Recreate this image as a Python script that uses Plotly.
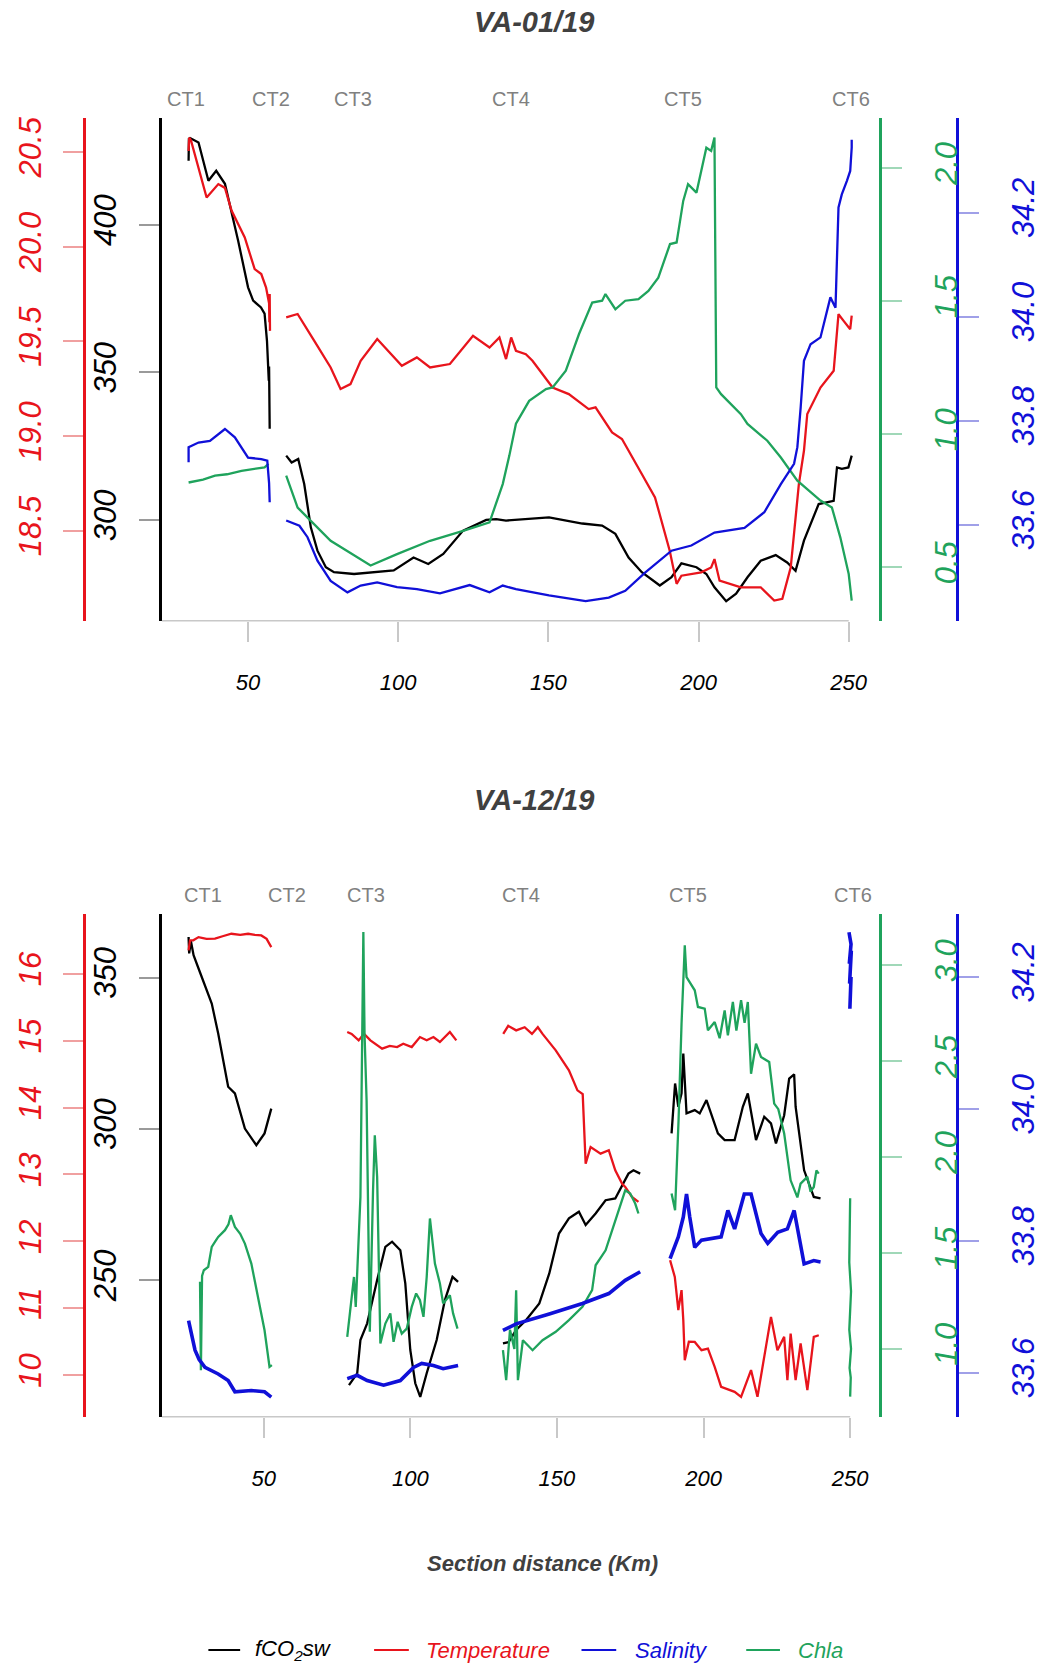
import plotly.graph_objects as go

# ---------------- DATA ----------------
CT_LABELS = ["CT1", "CT2", "CT3", "CT4", "CT5", "CT6"]
CT_KM = [29.2, 57.8, 84.8, 137.7, 194.7, 250.9]
TITLES = ["VA-01/19", "VA-12/19"]
X_TICKS = [50, 100, 150, 200, 250]

# ---- VA-01/19 ----
fco2_1_km = [30.2, 30.3, 30.7, 33.5, 36.8, 39.4, 42.3, 46.7, 50.0, 51.7, 54.3, 55.5, 56.3, 56.9, 57.0, 57.1, 57.2,
             None,
             62.7, 64.5, 66.7, 68.7, 70.9, 73.1, 75.9, 78.6, 85.3, 91.9, 98.5, 105.1, 110.0, 115.0, 121.6, 129.3,
             132.6, 135.9, 139.2, 150.2, 161.3, 167.9, 172.3, 176.7, 181.1, 187.1, 191.0, 194.3, 199.3, 202.6,
             205.3, 209.2, 212.5, 216.3, 220.7, 225.7, 229.5, 232.3, 235.1, 240.0, 245.0, 246.1, 247.7, 249.9, 251.0]
fco2_1 = [421.7, 429.1, 429.4, 427.9, 414.9, 418.3, 413.9, 394.6, 378.8, 374.3, 372.0, 369.9, 360.7, 347.2, 352.0, 338.0, 330.9,
          None,
          321.8, 319.5, 320.7, 312.2, 297.5, 289.6, 284.0, 282.3, 281.7, 282.3, 282.9, 287.3, 285.1, 288.5, 296.4, 300.0,
          300.3, 299.8, 300.0, 300.9, 298.8, 298.1, 295.3, 287.3, 282.3, 277.8, 280.6, 285.3, 284.0, 281.7,
          277.2, 272.5, 275.0, 280.6, 286.2, 288.1, 285.6, 282.8, 293.0, 305.4, 306.5, 317.8, 317.3, 317.8, 321.8]

temp_1_km = [30.2, 30.4, 31.0, 33.5, 36.2, 40.1, 42.3, 44.5, 48.9, 52.2, 54.4, 56.0, 57.0, 57.1, 57.2, 57.3,
             None,
             62.7, 66.5, 72.0, 77.5, 80.8, 84.1, 87.5, 93.0, 101.2, 106.2, 110.6, 117.2, 124.9, 130.4, 133.7, 135.9,
             137.6, 139.2, 142.5, 144.7, 151.4, 156.8, 163.4, 165.7, 171.2, 174.5, 181.1, 185.5, 190.4, 192.7,
             194.3, 200.9, 204.2, 205.3, 207.0, 210.8, 214.1, 220.7, 225.2, 227.9, 230.7, 233.4, 235.1, 236.2,
             240.6, 245.0, 245.6, 246.6, 248.3, 250.5, 251.0]
temp_1 = [20.505, 20.575, 20.56, 20.417, 20.259, 20.33, 20.31, 20.19, 20.048, 19.881, 19.855, 19.784, 19.70, 19.60, 19.75, 19.555,
          None,
          19.626, 19.644, 19.503, 19.362, 19.248, 19.274, 19.397, 19.512, 19.371, 19.415, 19.362, 19.380, 19.529, 19.467, 19.520, 19.406,
          19.52, 19.45, 19.432, 19.397, 19.256, 19.221, 19.142, 19.151, 19.019, 18.984, 18.799, 18.676, 18.394, 18.219,
          18.262, 18.28, 18.306, 18.35, 18.236, 18.219, 18.201, 18.201, 18.131, 18.14, 18.306, 18.746, 18.922, 19.116,
          19.256, 19.344, 19.467, 19.643, 19.608, 19.564, 19.635]

sal_1_km = [30.2, 30.2, 33.5, 37.3, 42.3, 45.6, 50.0, 54.4, 56.4, 57.0, 57.2,
            None,
            62.7, 67.1, 69.8, 73.1, 77.5, 83.1, 87.5, 93.0, 99.6, 106.2, 113.9, 123.8, 130.4, 134.8, 139.2, 150.2,
            162.4, 170.1, 175.6, 182.2, 191.0, 197.6, 205.3, 215.3, 221.9, 227.4, 231.8, 232.9, 234.0, 235.1, 237.3,
            240.6, 243.9, 245.6, 246.6, 247.7, 249.4, 250.5, 251.0, 251.0]
sal_1 = [33.720, 33.749, 33.758, 33.761, 33.784, 33.768, 33.729, 33.726, 33.723, 33.68, 33.643,
         None,
         33.608, 33.598, 33.576, 33.531, 33.492, 33.470, 33.483, 33.489, 33.480, 33.476, 33.468, 33.484, 33.470, 33.483, 33.476, 33.464,
         33.453, 33.460, 33.473, 33.508, 33.550, 33.560, 33.585, 33.594, 33.624, 33.678, 33.717, 33.749, 33.825, 33.915, 33.947,
         33.960, 34.037, 34.017, 34.21, 34.235, 34.261, 34.28, 34.325, 34.34]

chla_1_km = [30.2, 35.0, 39.0, 43.0, 47.8, 52.0, 55.5, 56.8,
             None,
             62.7, 66.5, 77.5, 90.8, 99.6, 110.6, 121.6, 130.4, 134.8, 137.0, 139.2, 143.6, 149.2, 151.4, 155.8,
             160.2, 164.6, 167.9, 169.0, 172.3, 175.6, 180.0, 183.3, 186.6, 190.5, 192.7, 194.9, 196.5, 199.3,
             200.9, 202.6, 204.2, 205.3, 205.9, 207.5, 214.1, 216.3, 222.9, 227.4, 232.9, 240.6, 244.4, 247.2,
             250.0, 251.0]
chla_1 = [0.819, 0.83, 0.845, 0.85, 0.863, 0.87, 0.876, 0.889,
          None,
          0.845, 0.725, 0.600, 0.507, 0.550, 0.600, 0.637, 0.669, 0.813, 0.92, 1.04, 1.126, 1.170, 1.176, 1.239,
          1.377, 1.495, 1.502, 1.527, 1.470, 1.502, 1.508, 1.539, 1.589, 1.715, 1.721, 1.877, 1.940, 1.908,
          1.990, 2.077, 2.065, 2.115, 1.176, 1.151, 1.076, 1.039, 0.976, 0.913, 0.826, 0.751, 0.725, 0.613,
          0.475, 0.375]

# ---- VA-12/19 ----
fco2_2_km = [24.4, 24.6, 25.2, 26.1, 27.8, 28.9, 32.3, 34.5, 37.9, 40.2, 43.6, 47.5, 50.3, 52.6,
             None,
             79.1, 81.9, 83.0, 85.3, 88.7, 91.5, 93.8, 96.6, 98.3, 100.0, 101.7, 103.4, 105.6, 109.0, 111.8, 114.4, 116.3,
             None,
             131.6, 133.5, 136.1, 139.5, 144.0, 147.4, 150.7, 154.1, 157.5, 159.8, 163.2, 166.6, 169.9, 174.4, 176.1, 178.4,
             None,
             189.1, 190.3, 191.4, 192.5, 193.1, 194.2, 197.0, 198.7, 201.0, 204.9, 207.2, 210.6, 213.4, 215.1,
             217.9, 220.7, 223.0, 224.7, 227.5, 229.2, 230.9, 231.4, 234.3, 237.6, 239.9]
fco2_2 = [363.4, 358.0, 362.0, 357.4, 353.0, 350.2, 341.4, 331.5, 313.9, 311.7, 300.1, 294.6, 298.5, 306.7,
          None,
          215.3, 219.2, 230.2, 235.7, 250.0, 261.0, 262.7, 259.9, 248.9, 226.9, 215.9, 211.4, 219.2, 230.2, 243.4, 251.1, 249.4,
          None,
          229.1, 229.5, 233.5, 236.8, 242.3, 252.2, 265.4, 270.4, 272.6, 268.2, 272.0, 276.4, 277.0, 285.2, 286.3, 285.2,
          None,
          298.5, 315.0, 307.3, 311.7, 324.9, 305.1, 306.2, 305.1, 309.5, 298.5, 296.3, 296.3, 307.3, 311.7,
          296.3, 304.0, 301.8, 295.2, 304.5, 316.6, 318.0, 307.3, 286.3, 277.5, 277.0]

temp_2_km = [24.4, 24.9, 26.0, 27.8, 30.5, 33.4, 36.0, 39.0, 42.0, 44.7, 47.0, 49.2, 51.0, 52.6,
             None,
             78.5, 80.0, 82.4, 84.2, 86.4, 90.4, 93.0, 95.5, 97.6, 100.5, 103.3, 105.6, 107.9, 110.1, 113.5, 115.7,
             None,
             131.7, 133.4, 136.1, 139.0, 141.5, 143.5, 145.1, 149.6, 154.1, 157.0, 158.8, 159.8, 161.5, 164.9,
             167.7, 169.9, 172.2, 173.3, 175.6, 177.8,
             None,
             188.6, 190.2, 191.4, 192.5, 193.1, 193.6, 195.0, 197.0, 199.3, 201.5, 203.8, 206.0, 210.6, 212.8,
             216.2, 218.4, 223.0, 225.2, 227.5, 228.6, 229.7, 231.4, 233.1, 235.4, 237.6, 239.3]
temp_2 = [16.348, 16.497, 16.50, 16.547, 16.52, 16.523, 16.56, 16.597, 16.58, 16.597, 16.58, 16.572, 16.52, 16.397,
          None,
          15.128, 15.10, 15.004, 15.104, 15.004, 14.880, 14.92, 14.904, 14.954, 14.904, 15.053, 15.004, 15.053, 14.979, 15.128, 15.004,
          None,
          15.10, 15.22, 15.153, 15.20, 15.10, 15.20, 15.10, 14.855, 14.556, 14.257, 14.20, 13.162, 13.41, 13.311,
          13.361, 13.062, 12.863, 12.813, 12.663, 12.589,
          None,
          11.718, 11.468, 10.971, 11.270, 10.822, 10.224, 10.50, 10.497, 10.373, 10.398, 10.124, 9.825, 9.75, 9.676,
          10.075, 9.676, 10.871, 10.373, 10.572, 9.925, 10.622, 9.925, 10.473, 9.776, 10.572, 10.597]

sal_2_km = [24.4, 25.5, 26.6, 28.0, 30.0, 34.5, 37.9, 40.2, 45.8, 50.3, 52.6,
            None,
            78.5, 81.9, 85.3, 90.9, 96.6, 101.1, 103.9, 107.9, 111.2, 116.3,
            None,
            131.6, 136.1, 147.4, 158.7, 167.7, 173.3, 178.4,
            None,
            188.6, 191.4, 193.1, 194.2, 195.3, 197.0, 199.3, 206.0, 208.3, 210.6, 213.9, 216.2, 219.6, 221.9,
            225.3, 228.6, 230.9, 234.3, 237.6, 239.9,
            None,
            249.6, 250.3, 249.7, 250.4, 249.8, 250.3, 249.9]
sal_2 = [33.679, 33.655, 33.634, 33.62, 33.608, 33.598, 33.588, 33.571, 33.573, 33.571, 33.563,
         None,
         33.591, 33.596, 33.588, 33.581, 33.588, 33.608, 33.614, 33.611, 33.606, 33.611,
         None,
         33.664, 33.674, 33.689, 33.705, 33.720, 33.740, 33.753,
         None,
         33.773, 33.806, 33.836, 33.871, 33.836, 33.790, 33.801, 33.806, 33.846, 33.818, 33.871, 33.871, 33.811, 33.796,
         33.813, 33.818, 33.846, 33.765, 33.770, 33.768,
         None,
         34.268, 34.25, 34.22, 34.24, 34.19, 34.20, 34.152]

chla_2_km = [28.3, 28.6, 29.0, 29.6, 31.1, 32.3, 33.5, 34.5, 36.8, 38.0, 38.8, 40.2, 42.0, 43.6, 45.8, 48.1, 50.3, 52.0, 52.8,
             None,
             78.5, 80.8, 81.4, 82.5, 83.0, 84.0, 84.4, 85.1, 86.2, 87.3, 87.9, 88.7, 89.8, 91.5, 93.2, 94.3, 95.7,
             97.1, 98.8, 100.5, 102.0, 103.3, 104.5, 105.6, 106.7, 108.4, 110.1, 111.2, 113.5, 114.6, 116.1,
             None,
             131.6, 132.7, 134.0, 135.5, 136.1, 136.7, 138.4, 141.7, 145.1, 149.6, 154.1, 158.7, 162.0, 163.2,
             166.6, 168.8, 171.0, 173.3, 175.0, 176.7, 177.8,
             None,
             189.1, 190.3, 191.5, 192.5, 193.6, 194.2, 197.0, 198.1, 200.4, 201.5, 203.8, 205.5, 207.2, 208.3,
             210.0, 211.2, 212.8, 214.0, 215.1, 216.2, 217.9, 219.6, 222.4, 224.1, 225.5, 227.5, 229.7, 232.0,
             233.1, 235.4, 236.5, 237.6, 238.5, 239.3,
             None,
             250.0, 249.7, 250.3, 249.7, 250.3, 249.8, 250.2, 250.0]
chla_2 = [1.35, 0.889, 1.38, 1.410, 1.428, 1.532, 1.56, 1.584, 1.619, 1.65, 1.697, 1.636, 1.60, 1.549, 1.445, 1.271, 1.097, 0.906, 0.915,
          None,
          1.063, 1.375, 1.219, 1.60, 1.792, 3.174, 2.644, 2.296, 1.089, 1.827, 2.114, 1.897, 1.028, 1.132, 1.185, 1.037, 1.141,
          1.080, 1.106, 1.219, 1.289, 1.254, 1.167, 1.375, 1.680, 1.445, 1.341, 1.237, 1.280, 1.185, 1.106,
          None,
          0.993, 0.837, 1.10, 1.00, 1.306, 0.837, 1.045, 0.993, 1.045, 1.089, 1.150, 1.219, 1.306, 1.436,
          1.514, 1.619, 1.723, 1.827, 1.810, 1.758, 1.706,
          None,
          1.810, 1.723, 2.20, 2.696, 3.104, 2.939, 2.870, 2.783, 2.774, 2.661, 2.704, 2.62, 2.765, 2.635,
          2.809, 2.66, 2.818, 2.70, 2.809, 2.435, 2.592, 2.522, 2.496, 2.279, 2.25, 2.123, 1.879, 1.79,
          1.862, 1.897, 1.82, 1.844, 1.93, 1.914,
          None,
          1.785, 1.45, 1.30, 1.10, 1.00, 0.90, 0.85, 0.751]

# ---------------- STYLE / LAYOUT ----------------
W, H = 1041, 1666
FONT = "Liberation Sans, Arial, Helvetica, sans-serif"
C_BLACK, C_RED, C_BLUE, C_GREEN = "#000000", "#e8141c", "#1010d8", "#1fa35c"
T_BLACK, T_RED, T_BLUE, T_GREEN = "#9a9a9a", "#f0a0a0", "#a0a0e8", "#a0d8b8"


def fx(p):
    return p / W


def fy(p):
    return 1 - p / H


panels = [
    dict(xr=[21.26, 260.15], top=116.7, bot=620.0, title_y=21,
         ct_y=98,
         axes=dict(
             co2=dict(range=[265.9, 436.3], tv=[300, 350, 400], tt=["300", "350", "400"]),
             tmp=dict(range=[18.025, 20.681], tv=[18.5, 19.0, 19.5, 20.0, 20.5], tt=["18.5", "19.0", "19.5", "20.0", "20.5"]),
             chl=dict(range=[0.300, 2.190], tv=[0.5, 1.0, 1.5, 2.0], tt=["0.5", "1.0", "1.5", "2.0"]),
             sal=dict(range=[33.4156, 34.3825], tv=[33.6, 33.8, 34.0, 34.2], tt=["33.6", "33.8", "34.0", "34.2"]),
         ),
         data=dict(co2=(fco2_1_km, fco2_1), tmp=(temp_1_km, temp_1), sal=(sal_1_km, sal_1), chl=(chla_1_km, chla_1)),
         widths=dict(co2=2.3, tmp=2.3, sal=2.3, chl=2.3)),
    dict(xr=[15.25, 259.9], top=913.3, bot=1416.7, title_y=799,
         ct_y=895,
         axes=dict(
             co2=dict(range=[204.8, 371.1], tv=[250, 300, 350], tt=["250", "300", "350"]),
             tmp=dict(range=[9.377, 16.896], tv=[10, 11, 12, 13, 14, 15, 16], tt=["10", "11", "12", "13", "14", "15", "16"]),
             chl=dict(range=[0.6456, 3.269], tv=[1.0, 1.5, 2.0, 2.5, 3.0], tt=["1.0", "1.5", "2.0", "2.5", "3.0"]),
             sal=dict(range=[33.533, 34.296], tv=[33.6, 33.8, 34.0, 34.2], tt=["33.6", "33.8", "34.0", "34.2"]),
         ),
         data=dict(co2=(fco2_2_km, fco2_2), tmp=(temp_2_km, temp_2), sal=(sal_2_km, sal_2), chl=(chla_2_km, chla_2)),
         widths=dict(co2=2.3, tmp=2.3, sal=3.6, chl=2.3)),
]

fig = go.Figure()
layout = dict(width=W, height=H, margin=dict(l=0, r=0, t=0, b=0, pad=0),
              paper_bgcolor="white", plot_bgcolor="rgba(0,0,0,0)", showlegend=False,
              font=dict(family=FONT))
shapes, annotations = [], []

X_DOM = [fx(163), fx(886)]
POS_RED = fx(85)
POS_BLUE = fx(964)
YTICKFONT = 31
STANDOFF_LEFT = 10
STANDOFF_RIGHT = 18

for i, p in enumerate(panels):
    xn = "x" if i == 0 else "x2"
    xk = "xaxis" if i == 0 else "xaxis2"
    base = 1 + 4 * i
    ids = {k: base + j for j, k in enumerate(["co2", "tmp", "chl", "sal"])}
    yname = {k: ("y" if v == 1 else f"y{v}") for k, v in ids.items()}
    ykey = {k: ("yaxis" if v == 1 else f"yaxis{v}") for k, v in ids.items()}
    ydom = [fy(p["bot"]), fy(p["top"])]

    layout[xk] = dict(domain=X_DOM, anchor=yname["co2"], range=p["xr"], tickvals=X_TICKS,
                      ticktext=[str(v) for v in X_TICKS], ticks="outside", ticklen=20, tickwidth=1.5,
                      tickcolor="#c8c8c8", showline=False, showgrid=False, zeroline=False,
                      tickfont=dict(size=22, color="black", style="italic", family=FONT),
                      ticklabelstandoff=22)

    def yax(key, color, tcolor, standoff, **kw):
        a = p["axes"][key]
        d = dict(range=a["range"], tickvals=a["tv"], ticktext=a["tt"], ticks="outside", ticklen=20,
                 tickwidth=1.5, tickcolor=tcolor, showline=True, linecolor=color, linewidth=3,
                 showgrid=False, zeroline=False, tickangle=-90,
                 tickfont=dict(size=YTICKFONT, color=color, style="italic", family=FONT),
                 ticklabelstandoff=standoff)
        d.update(kw)
        return d

    layout[ykey["co2"]] = yax("co2", C_BLACK, T_BLACK, STANDOFF_LEFT, domain=ydom, anchor=xn, side="left")
    layout[ykey["tmp"]] = yax("tmp", C_RED, T_RED, STANDOFF_LEFT, overlaying=yname["co2"], anchor="free",
                              position=POS_RED, side="left")
    layout[ykey["chl"]] = yax("chl", C_GREEN, T_GREEN, STANDOFF_RIGHT, overlaying=yname["co2"], anchor=xn,
                              side="right")
    layout[ykey["sal"]] = yax("sal", C_BLUE, T_BLUE, STANDOFF_RIGHT, overlaying=yname["co2"], anchor="free",
                              position=POS_BLUE, side="right")

    colors = dict(co2=C_BLACK, tmp=C_RED, sal=C_BLUE, chl=C_GREEN)
    for key in ["chl", "sal", "tmp", "co2"]:
        xs, ys = p["data"][key]
        fig.add_trace(go.Scatter(x=xs, y=ys, xaxis=xn, yaxis=yname[key], mode="lines",
                                 line=dict(color=colors[key], width=p["widths"][key]),
                                 connectgaps=False, hoverinfo="skip"))

    # gray x axis baseline
    shapes.append(dict(type="line", xref=xn, yref="paper", x0=p["xr"][0], x1=X_TICKS[-1],
                       y0=ydom[0], y1=ydom[0], line=dict(color="#c8c8c8", width=1.5)))

    # title
    annotations.append(dict(text=f"<b><i>{TITLES[i]}</i></b>", xref="paper", yref="paper",
                            x=fx(538), y=fy(p["title_y"]), showarrow=False, xanchor="center", yanchor="middle",
                            font=dict(size=29, color="#404040", family=FONT)))
    # CT labels
    for lab, km in zip(CT_LABELS, CT_KM):
        annotations.append(dict(text=lab, xref=xn, yref="paper", x=km, y=fy(p["ct_y"]),
                                showarrow=False, xanchor="center", yanchor="middle",
                                font=dict(size=20, color="#808080", family=FONT)))

# x title
annotations.append(dict(text="<b><i>Section distance (Km)</i></b>", xref="paper", yref="paper",
                        x=fx(547), y=fy(1563), showarrow=False, xanchor="center", yanchor="middle",
                        font=dict(size=22, color="#404040", family=FONT)))

# legend (manual)
LEG = [("<i>fCO<sub>2</sub>sw</i>", C_BLACK, 210, 242, 255),
       ("<i>Temperature</i>", C_RED, 377, 412, 427),
       ("<i>Salinity</i>", C_BLUE, 586, 621, 638),
       ("<i>Chla</i>", C_GREEN, 752, 786, 802)]
LEG_Y = 1650
for txt, col, l0, l1, tx in LEG:
    shapes.append(dict(type="line", xref="paper", yref="paper", x0=fx(l0), x1=fx(l1),
                       y0=fy(LEG_Y), y1=fy(LEG_Y), line=dict(color=col, width=2)))
    annotations.append(dict(text=txt, xref="paper", yref="paper", x=fx(tx), y=fy(LEG_Y),
                            showarrow=False, xanchor="left", yanchor="middle",
                            font=dict(size=22, color=col, family=FONT)))

layout["shapes"] = shapes
layout["annotations"] = annotations
fig.update_layout(**layout)
fig.write_html("out.html")
